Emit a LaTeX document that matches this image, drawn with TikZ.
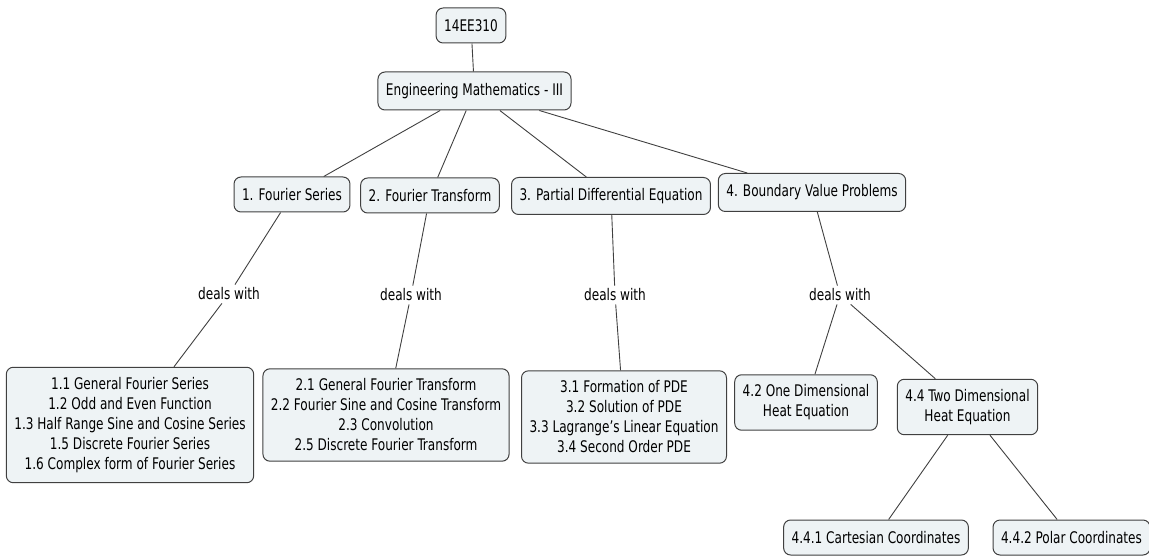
\documentclass[tikz,border=0pt]{standalone}
\usepackage{fontspec}
\setmainfont[FakeStretch=0.84]{DejaVu Sans Condensed}
\usepackage{xcolor}
\usetikzlibrary{positioning}
\definecolor{cfill}{HTML}{EEF3F5}
\definecolor{cline}{HTML}{404040}
\tikzset{
  blk/.style  = {rectangle, rounded corners=7pt, draw=cline, fill=cfill, line width=1pt,
                 align=center, font=\fontsize{16}{20}\selectfont, inner xsep=8pt, inner ysep=10pt,
                 minimum height=35pt},
  lbl/.style  = {font=\fontsize{16}{20}\selectfont, inner sep=3pt, fill=white},
  fl/.style   = {cline, line width=0.9pt},
}
\begin{document}
\begin{tikzpicture}[x=1pt, y=-1pt]
  \useasboundingbox (0,0) rectangle (1149,556);
  % main concepts
  \node[blk] (code) at (471,25.5) {14EE310};
  \node[blk, minimum height=38pt] (em) at (474.5,91) {Engineering Mathematics - III};
  \node[blk] (fs) at (292,194.5) {1. Fourier Series};
  \node[blk] (ft) at (430,195.5) {2. Fourier Transform};
  \node[blk, minimum height=37pt] (pde) at (611,196) {3. Partial Differential Equation};
  \node[blk, minimum height=38pt] (bvp) at (812,192.5) {4. Boundary Value Problems};
  % linking phrases
  \node[lbl] (d1) at (229,294) {deals with};
  \node[lbl] (d2) at (411,295) {deals with};
  \node[lbl] (d3) at (615,295) {deals with};
  \node[lbl] (d4) at (840,295) {deals with};
  % topic boxes
  \node[blk] (fsl) at (130,425) {1.1 General Fourier Series\\ 1.2 Odd and Even Function\\ 1.3 Half Range Sine and Cosine Series\\ 1.5 Discrete Fourier Series\\ 1.6 Complex form of Fourier Series};
  \node[blk] (ftl) at (386,415) {2.1 General Fourier Transform\\ 2.2 Fourier Sine and Cosine Transform\\ 2.3 Convolution\\ 2.5 Discrete Fourier Transform};
  \node[blk] (pdel) at (624,417) {3.1 Formation of PDE\\ 3.2 Solution of PDE\\ 3.3 Lagrange's Linear Equation\\ 3.4 Second Order PDE};
  \node[blk] (one) at (806,402.5) {4.2 One Dimensional\\ Heat Equation};
  \node[blk] (two) at (967.5,407) {4.4 Two Dimensional\\ Heat Equation};
  \node[blk] (cart) at (876,537.5) {4.4.1 Cartesian Coordinates};
  \node[blk] (pol) at (1071.5,537.5) {4.4.2 Polar Coordinates};
  % links
  \draw[fl] (code) -- (em);
  \draw[fl] (em) -- (fs);
  \draw[fl] (em) -- (ft);
  \draw[fl] (em) -- (pde);
  \draw[fl] (em) -- (bvp);
  \draw[fl] (fs) -- (d1);
  \draw[fl] (d1) -- (fsl);
  \draw[fl] (ft) -- (d2);
  \draw[fl] (d2) -- (ftl);
  \draw[fl] (pde) -- (d3);
  \draw[fl] (d3) -- (pdel);
  \draw[fl] (bvp) -- (d4);
  \draw[fl] (d4) -- (one);
  \draw[fl] (d4) -- (two);
  \draw[fl] (two) -- (cart);
  \draw[fl] (two) -- (pol);
\end{tikzpicture}
\end{document}
